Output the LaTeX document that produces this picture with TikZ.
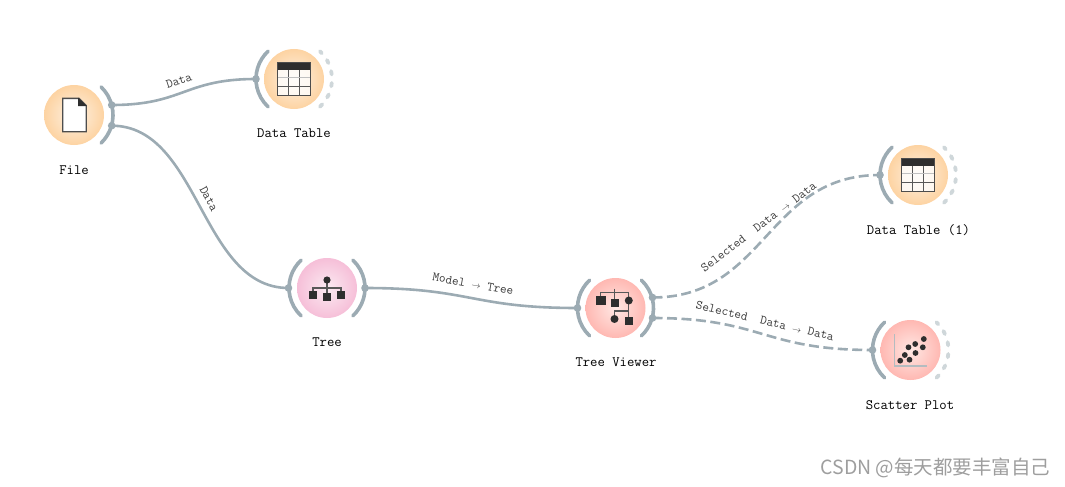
\documentclass[tikz,border=0pt]{standalone}
\usepackage{fontspec}
\newfontfamily\cjk{Noto Sans CJK SC}
\definecolor{linkc}{HTML}{9CABB3}
\definecolor{faintc}{HTML}{CFD7DA}
\definecolor{inkc}{HTML}{2E2E2E}
\definecolor{lblc}{HTML}{3A3A3A}
\definecolor{axisc}{HTML}{B4BCC0}
\definecolor{orin}{HTML}{FEF2E4}
\definecolor{orout}{HTML}{FDD3A2}
\definecolor{pkin}{HTML}{FBEAF2}
\definecolor{pkout}{HTML}{F6BFD8}
\definecolor{rdin}{HTML}{FFE8E4}
\definecolor{rdout}{HTML}{FFB8B2}
\tikzset{x=1pt,y=1pt,
  widgetbase/.style={circle,minimum size=60pt,inner sep=0pt},
  orangew/.style={widgetbase,inner color=orin,outer color=orout},
  pinkw/.style={widgetbase,inner color=pkin,outer color=pkout},
  redw/.style={widgetbase,inner color=rdin,outer color=rdout},
  portarc/.style={draw=linkc,line width=3.6pt,line cap=round},
  openarc/.style={draw=faintc,line width=3.8pt,line cap=round,dash pattern=on 3.4pt off 8.5pt},
  portdot/.style={fill=linkc,draw=none},
  wire/.style={draw=linkc,line width=2.6pt},
  dashwire/.style={wire,dash pattern=on 10pt off 4.5pt},
  wlabel/.style={font=\fontsize{14.3}{16}\selectfont\ttfamily,text=black,inner sep=0pt},
  elabel/.style={font=\fontsize{12.8}{14}\selectfont\ttfamily,text=lblc,inner sep=0pt},
  inkline/.style={draw=inkc!80!white,line width=1.3pt},
  pics/tableicon/.style={code={
    \fill[white,opacity=.8] (-16.7,-16.7) rectangle (16.7,16.7);
    \draw[draw=inkc!80!white,line width=.8pt] (-5.5,8.7) -- (-5.5,-16.7) (5.5,8.7) -- (5.5,-16.7) (-16.7,-7) -- (16.7,-7);
    \draw[draw=inkc!30!white,line width=1.2pt] (-16.7,1.3) -- (16.7,1.3);
    \fill[inkc] (-16.7,8.7) rectangle (16.7,16.7);
    \draw[draw=inkc!85!white,line width=1.2pt] (-16.7,-16.7) rectangle (16.7,16.7);
  }},
  pics/fileicon/.style={code={
    \draw[draw=inkc!85!white,fill=white,line width=1.4pt] (-11.3,16.7) -- (5,16.7) -- (12.2,9.5) -- (12.2,-16.7) -- (-11.3,-16.7) -- cycle;
    \fill[inkc] (4,17.4) -- (12.9,8.8) -- (4,8.8) -- cycle;
  }},
  pics/treeicon/.style={code={
    \draw[inkline] (0,8) -- (0,0) (-14,-6) -- (-14,0) -- (14,0) -- (14,-6) (0,0) -- (0,-7);
    \fill[inkc] (0,8) circle (3.6);
    \fill[inkc] (-17.7,-10.7) rectangle (-10.3,-3.3);
    \fill[inkc] (-3.7,-12.7) rectangle (3.7,-5.3);
    \fill[inkc] (10.3,-10.7) rectangle (17.7,-3.3);
  }},
  pics/viewericon/.style={code={
    \draw[inkline] (-0.7,19.5) -- (-0.7,15.5) (-15,8) -- (-15,15.5) -- (13.3,15.5) -- (13.3,-13) (-0.7,15.5) -- (-0.7,6)
      (-1,-11) -- (-1,-3) -- (13.3,-3);
    \fill[inkc] (-20,3) rectangle (-10,12.5);
    \fill[inkc] (-4.7,1.5) rectangle (3.3,9.5);
    \fill[inkc] (13.3,7.5) circle (4);
    \fill[inkc] (-1,-11) circle (4);
    \fill[inkc] (9.3,-17) rectangle (17.3,-9);
  }},
  pics/scattericon/.style={code={
    \draw[draw=axisc,line width=1.4pt] (-16,16) -- (-16,-16) -- (16.5,-16);
    \foreach \u/\v in {-10.3/-10.7,-5.7/-5,-1/-9.7,-2/2.7,4.7/6,5/-3,13.3/11,12.3/2.7}
      \fill[inkc] (\u,\v) circle (2.9);
  }},
}
\begin{document}
\begin{tikzpicture}
\useasboundingbox (0,0) rectangle (1065,-487);
% widgets
\node[orangew] (file) at (74,-115) {};
\node[orangew] (dt) at (294,-79) {};
\node[pinkw] (tree) at (327,-288) {};
\node[redw] (tv) at (615.5,-308) {};
\node[orangew] (dt1) at (918,-175) {};
\node[redw] (sp) at (910.5,-350) {};
% icons
\pic at (file) {fileicon};
\pic at (dt) {tableicon};
\pic at (tree) {treeicon};
\pic at (tv) {viewericon};
\pic at (dt1) {tableicon};
\pic at (sp) {scattericon};
% port arcs
\draw[portarc] (file.center) ++(-46:39pt) arc (-46:46:39pt);
\draw[portarc] (dt.center) ++(133:38pt) arc (133:227:38pt);
\draw[openarc] (dt.center) ++(-47:38pt) arc (-47:47:38pt);
\draw[portarc] (tree.center) ++(133:38pt) arc (133:227:38pt);
\draw[portarc] (tree.center) ++(-47:38pt) arc (-47:47:38pt);
\draw[portarc] (tv.center) ++(133:38pt) arc (133:227:38pt);
\draw[portarc] (tv.center) ++(-47:38pt) arc (-47:47:38pt);
\draw[portarc] (dt1.center) ++(133:38pt) arc (133:227:38pt);
\draw[openarc] (dt1.center) ++(-47:38pt) arc (-47:47:38pt);
\draw[portarc] (sp.center) ++(133:38pt) arc (133:227:38pt);
\draw[openarc] (sp.center) ++(-47:38pt) arc (-47:47:38pt);
% ports
\coordinate (fileA) at (111.7,-105);
\coordinate (fileB) at (111.7,-125.7);
\coordinate (dtIn) at (256,-79);
\coordinate (treeIn) at (288.5,-288);
\coordinate (treeOut) at (365,-288);
\coordinate (tvIn) at (577.5,-308);
\coordinate (tvA) at (652.5,-297.5);
\coordinate (tvB) at (652.5,-318);
\coordinate (dt1In) at (880,-175);
\coordinate (spIn) at (872.5,-350);
% connectors
\draw[wire] (fileA) .. controls +(72,0) and +(-72,0) .. (dtIn);
\draw[wire] (fileB) .. controls +(88,0) and +(-88,0) .. (treeIn);
\draw[wire] (treeOut) .. controls +(106,0) and +(-106,0) .. (tvIn);
\draw[dashwire] (tvA) .. controls +(114,0) and +(-114,0) .. (dt1In);
\draw[dashwire] (tvB) .. controls +(110,0) and +(-110,0) .. (spIn);
\foreach \p in {fileA,fileB,dtIn,treeIn,treeOut,tvIn,tvA,tvB,dt1In,spIn}
  \fill[portdot] (\p) circle (3.8);
% widget labels
\node[wlabel] (lfile) at (74,-170) {File};
\node[wlabel] (ldt) at (294,-133) {Data Table};
\node[wlabel] (ltree) at (327,-342) {Tree};
\node[wlabel] (ltv) at (616,-362) {Tree Viewer};
\node[wlabel] (ldt1) at (918.5,-230) {Data Table (1)};
\node[wlabel] (lsp) at (910,-405) {Scatter Plot};
% connector labels
\node[elabel,rotate=18] (e1) at (179,-80.5) {Data};
\node[elabel,rotate=-62] (e2) at (209,-199) {Data};
\node[elabel,rotate=-10] (e3) at (473,-284) {Model $\scriptstyle\rightarrow$ Tree};
\node[elabel,rotate=37] (e4) at (758.5,-226.5) {Selected\ \ Data $\scriptstyle\rightarrow$ Data};
\node[elabel,rotate=-13] (e5) at (765,-321) {Selected\ \ Data $\scriptstyle\rightarrow$ Data};
% watermark
\node[inner sep=0pt,text=black!38,font=\cjk\fontsize{19.5}{21}\selectfont] (wm) at (935.5,-468) {CSDN @每天都要丰富自己};
\end{tikzpicture}
\end{document}
